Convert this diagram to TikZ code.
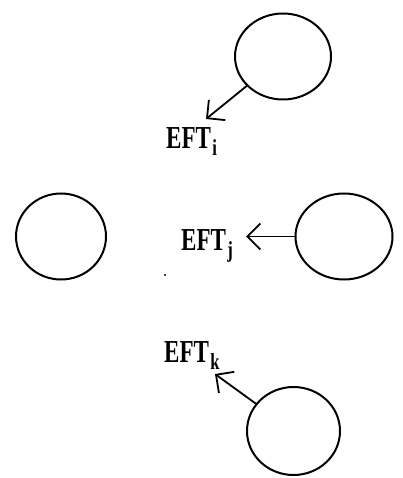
\documentclass[tikz,border=0pt]{standalone}
\usepackage{fontspec}
\setmainfont{Liberation Serif}
\usetikzlibrary{shapes.geometric,arrows.meta}
\newcommand{\efttext}[1]{\scalebox{0.72}[1]{\bfseries\fontsize{32}{32}\selectfont EFT\hspace{2pt}\raisebox{-7pt}{\fontsize{23}{23}\selectfont #1}}}
\tikzset{
  circ/.style={draw, ellipse, line width=2pt, inner sep=0pt},
  arr/.style={line width=1.8pt, -{Straight Barb[length=13pt,width=26pt,line width=1.8pt]}},
  lbl/.style={anchor=base west, inner sep=0pt}
}
\begin{document}
\begin{tikzpicture}[x=1pt,y=-1pt]
\useasboundingbox (0,0) rectangle (403,478);
\node[circ, minimum width=96pt, minimum height=86pt] (top) at (283,56.5) {};
\node[circ, minimum width=90pt, minimum height=86pt] (left) at (61,236.5) {};
\node[circ, minimum width=97pt, minimum height=86pt] (right) at (344,236.5) {};
\node[circ, minimum width=93pt, minimum height=88pt] (bot) at (293.5,431) {};
\node[lbl] (li) at (166,149) {\efttext{i}};
\node[lbl] (lj) at (181,250) {\efttext{j}};
\node[lbl] (lk) at (164,362) {\efttext{k}};
\coordinate (ti) at (206,119);
\coordinate (tj) at (246,236.5);
\coordinate (tk) at (215,374);
\draw[arr] (top) -- (ti);
\draw[arr] (right) -- (tj);
\draw[arr] (bot) -- (tk);
\fill (165,275) circle (1.1pt);
\end{tikzpicture}
\end{document}
